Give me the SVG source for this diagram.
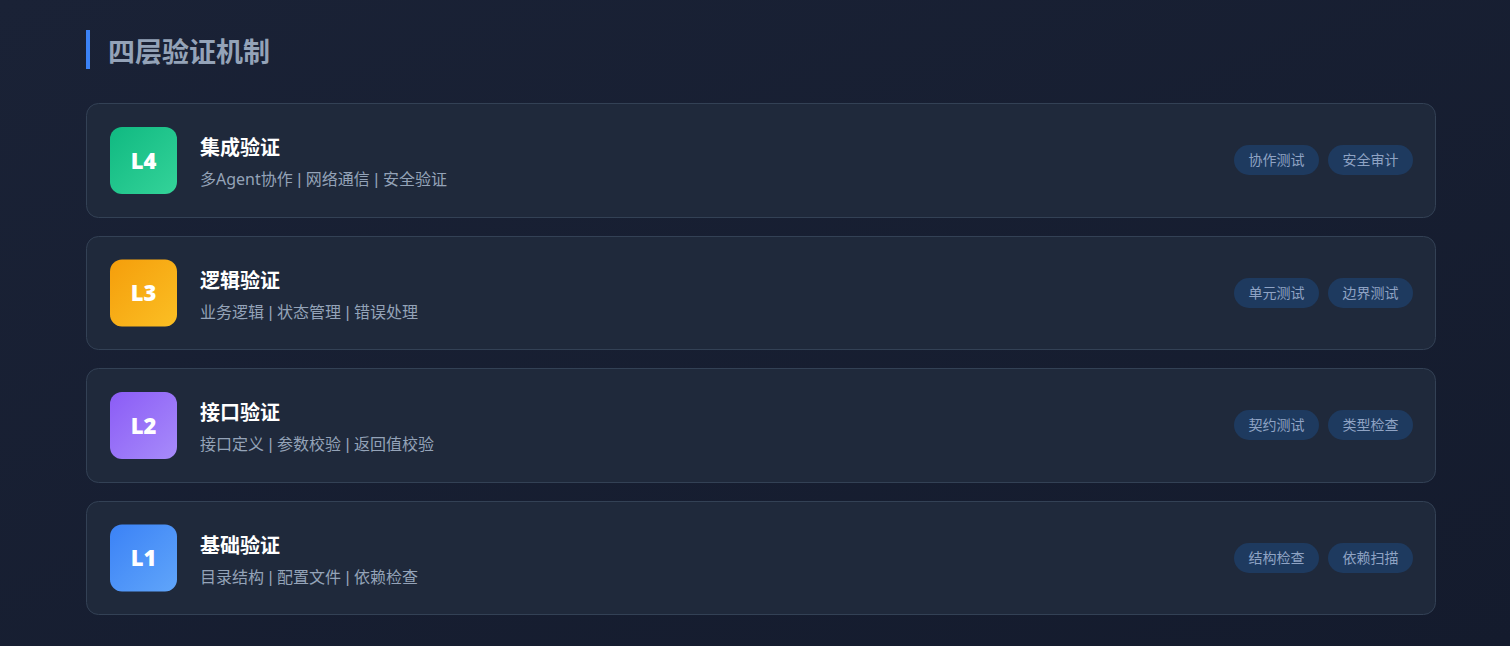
<svg xmlns="http://www.w3.org/2000/svg" width="1510" height="646" viewBox="0 0 1510 646">
<defs>
<linearGradient id="bg" x1="0" y1="0" x2="1" y2="1"><stop offset="0" stop-color="#1a2236"/><stop offset="1" stop-color="#141b2d"/></linearGradient>
<linearGradient id="g4" x1="0" y1="0" x2="1" y2="1"><stop offset="0" stop-color="#10b981"/><stop offset="1" stop-color="#34d399"/></linearGradient>
<linearGradient id="g3" x1="0" y1="0" x2="1" y2="1"><stop offset="0" stop-color="#f59e0b"/><stop offset="1" stop-color="#fbbf24"/></linearGradient>
<linearGradient id="g2" x1="0" y1="0" x2="1" y2="1"><stop offset="0" stop-color="#8b5cf6"/><stop offset="1" stop-color="#a78bfa"/></linearGradient>
<linearGradient id="g1" x1="0" y1="0" x2="1" y2="1"><stop offset="0" stop-color="#3b82f6"/><stop offset="1" stop-color="#60a5fa"/></linearGradient>
<style>
.card{fill:#1f293b;stroke:#334155;stroke-width:1}
.lv{font-family:"Noto Sans","Liberation Sans",sans-serif;font-weight:900;font-size:22px;fill:#ffffff;text-anchor:middle}
.t{font-family:"Noto Sans CJK SC","Noto Sans",sans-serif;font-weight:bold;font-size:20px;fill:#ffffff}
.s{font-family:"Liberation Sans","Noto Sans CJK SC",sans-serif;font-size:16px;fill:#94a3b8}
.lat{font-family:"Noto Sans",sans-serif}
.pill{fill:#1e3a5f}
.pt{font-family:"Noto Sans CJK SC",sans-serif;font-size:14px;fill:#8fa3c4;text-anchor:middle}
.h{font-family:"Noto Sans CJK SC",sans-serif;font-weight:bold;font-size:27px;fill:#94a3b8}
</style>
</defs>
<rect width="1510" height="646" fill="url(#bg)"/>
<g id="header">
<rect x="86" y="30" width="4" height="39" fill="#3b82f6"/>
<text class="h" x="108" y="62">四层验证机制</text>
</g>
<g id="L4">
<rect class="card" x="86.5" y="103.5" width="1349" height="114" rx="12"/>
<rect x="110" y="127" width="67" height="67" rx="12" fill="url(#g4)"/>
<text class="lv" x="143.5" y="168.5">L4</text>
<text class="t" x="200" y="155">集成验证</text>
<text class="s" x="200" y="185">多<tspan class="lat">Agent</tspan>协作 | 网络通信 | 安全验证</text>
<rect class="pill" x="1234" y="145" width="85" height="30" rx="15"/>
<text class="pt" x="1276.5" y="165">协作测试</text>
<rect class="pill" x="1328" y="145" width="85" height="30" rx="15"/>
<text class="pt" x="1370.5" y="165">安全审计</text>
</g>
<g id="L3">
<rect class="card" x="86.5" y="236.5" width="1349" height="113" rx="12"/>
<rect x="110" y="259.5" width="67" height="67" rx="12" fill="url(#g3)"/>
<text class="lv" x="143.5" y="301">L3</text>
<text class="t" x="200" y="288">逻辑验证</text>
<text class="s" x="200" y="317.5">业务逻辑 | 状态管理 | 错误处理</text>
<rect class="pill" x="1234" y="278" width="85" height="30" rx="15"/>
<text class="pt" x="1276.5" y="298">单元测试</text>
<rect class="pill" x="1328" y="278" width="85" height="30" rx="15"/>
<text class="pt" x="1370.5" y="298">边界测试</text>
</g>
<g id="L2">
<rect class="card" x="86.5" y="368.5" width="1349" height="114" rx="12"/>
<rect x="110" y="392" width="67" height="67" rx="12" fill="url(#g2)"/>
<text class="lv" x="143.5" y="433.5">L2</text>
<text class="t" x="200" y="420">接口验证</text>
<text class="s" x="200" y="450">接口定义 | 参数校验 | 返回值校验</text>
<rect class="pill" x="1234" y="410" width="85" height="30" rx="15"/>
<text class="pt" x="1276.5" y="430">契约测试</text>
<rect class="pill" x="1328" y="410" width="85" height="30" rx="15"/>
<text class="pt" x="1370.5" y="430">类型检查</text>
</g>
<g id="L1">
<rect class="card" x="86.5" y="501.5" width="1349" height="113" rx="12"/>
<rect x="110" y="524.5" width="67" height="67" rx="12" fill="url(#g1)"/>
<text class="lv" x="143.5" y="566">L1</text>
<text class="t" x="200" y="553">基础验证</text>
<text class="s" x="200" y="583">目录结构 | 配置文件 | 依赖检查</text>
<rect class="pill" x="1234" y="543" width="85" height="30" rx="15"/>
<text class="pt" x="1276.5" y="563">结构检查</text>
<rect class="pill" x="1328" y="543" width="85" height="30" rx="15"/>
<text class="pt" x="1370.5" y="563">依赖扫描</text>
</g>
<g id="connectors"/>
</svg>
